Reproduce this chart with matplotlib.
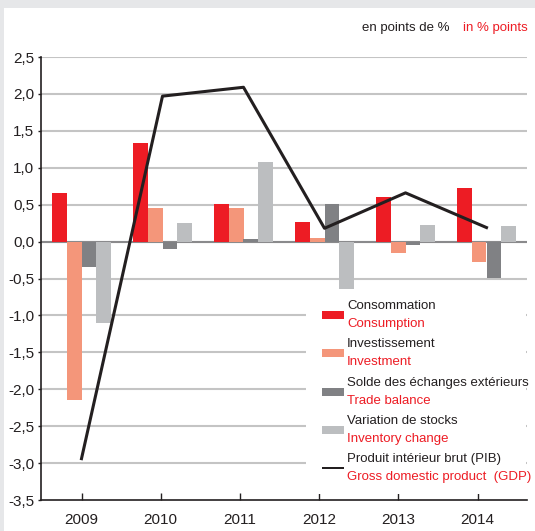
import numpy as np
import matplotlib.pyplot as plt
from matplotlib.patches import Rectangle

years = ['2009', '2010', '2011', '2012', '2013', '2014']
consumption = [0.66, 1.34, 0.51, 0.26, 0.61, 0.73]
investment = [-2.14, 0.46, 0.46, 0.05, -0.15, -0.27]
trade_balance = [-0.35, -0.10, 0.03, 0.51, -0.04, -0.49]
inventory = [-1.10, 0.25, 1.08, -0.64, 0.23, 0.21]
gdp = [-2.94, 1.97, 2.09, 0.18, 0.66, 0.19]

labels_fr = ['Consommation', 'Investissement', 'Solde des échanges extérieurs',
             'Variation de stocks', 'Produit intérieur brut (PIB)']
labels_en = ['Consumption', 'Investment', 'Trade balance',
             'Inventory change', 'Gross domestic product  (GDP)']
colors = ['#ed1c24', '#f4967a', '#808184', '#bcbec0', '#231f20']
red = '#ed1c24'
dark = '#231f20'

plt.rcParams['font.family'] = ['Liberation Sans Narrow', 'Liberation Sans', 'DejaVu Sans']

fig = plt.figure(figsize=(5.35, 5.31), dpi=100, facecolor='#e6e7e9')
fig.patches.append(Rectangle((4 / 535, 0), 1, (531 - 8) / 531, transform=fig.transFigure,
                             facecolor='white', edgecolor='none', zorder=-1))

ax = fig.add_axes([41 / 535, 31 / 531, 486 / 535, 443 / 531])
ax.set_facecolor('none')

x = np.arange(len(years))
w = 0.185
series = [consumption, investment, trade_balance, inventory]
for k, vals in enumerate(series):
    ax.bar(x + (k - 1.5) * w, vals, w, color=colors[k], zorder=3)

ax.plot(x, gdp, color=dark, lw=2.2, zorder=4)

ax.set_xlim(-0.5, 5.5)
ax.set_ylim(-3.5, 2.5)
yt = np.arange(-3.5, 2.51, 0.5)
ax.set_yticks(yt)
ax.set_yticklabels([('%.1f' % v).replace('.', ',') for v in yt], fontsize=11)
for v in yt[1:]:
    ax.axhline(v, color='#c4c4c4', lw=1.5, zorder=1)
ax.axhline(0, color='#8a8a8c', lw=1.5, zorder=2)

ax.set_xticks(x * 0.978)
ax.set_xticklabels(years, fontsize=11)
ax.tick_params(axis='x', direction='in', length=5, width=1, pad=9, colors=dark)
ax.tick_params(axis='y', direction='out', length=2, width=1, pad=3, colors=dark)
for s in ['top', 'right']:
    ax.spines[s].set_visible(False)
for s in ['left', 'bottom']:
    ax.spines[s].set_linewidth(1.2)
    ax.spines[s].set_color(dark)

# overlay in pixel coords for the hand-made legend and header
ov = fig.add_axes([0, 0, 1, 1], zorder=10)
ov.set_xlim(0, 535)
ov.set_ylim(531, 0)
ov.axis('off')
ov.add_patch(Rectangle((306, 292), 220, 202, facecolor='white', edgecolor='none'))
for i in range(5):
    yc = 315 + i * 38.3
    if i < 4:
        ov.add_patch(Rectangle((322, yc - 4), 22, 8, facecolor=colors[i], edgecolor='none'))
    else:
        ov.add_patch(Rectangle((322, yc - 1), 22, 2, facecolor=colors[i], edgecolor='none'))
    ov.text(347, yc - 9, labels_fr[i], fontsize=9.5, color=dark, va='center', ha='left')
    ov.text(347, yc + 9, labels_en[i], fontsize=9.5, color=red, va='center', ha='left')

ov.text(449, 28, 'en points de %', fontsize=9.5, color=dark, ha='right', va='center')
ov.text(528, 28, 'in % points', fontsize=9.5, color=red, ha='right', va='center')

plt.savefig('out.png', dpi=100, facecolor=fig.get_facecolor())
